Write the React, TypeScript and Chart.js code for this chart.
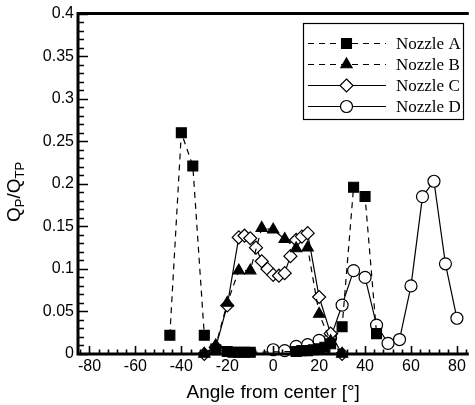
import React, { useEffect, useRef } from "react";
import { Chart, registerables } from "chart.js";

Chart.register(...registerables);

// ---- data ----
const anglesA = [-45, -40, -35, -30, -25, -20, -17.5, -15, -12.5, -10, 10, 12.5, 15, 17.5, 20, 22.5, 25, 30, 35, 40, 45];
const valuesA = [0.022, 0.26, 0.221, 0.022, 0.005, 0.003, 0.002, 0.002, 0.002, 0.002, 0.003, 0.004, 0.004, 0.005, 0.006, 0.008, 0.012, 0.032, 0.196, 0.185, 0.024];

const anglesB = [-30, -25, -20, -15, -10, -5, 0, 5, 10, 15, 20, 25, 30];
const valuesB = [0.0, 0.01, 0.06, 0.098, 0.098, 0.148, 0.146, 0.135, 0.124, 0.125, 0.047, 0.015, 0.0];

const anglesC = [-30, -25, -20, -15, -12.5, -10, -7.5, -5, -2.5, 0, 2.5, 5, 7.5, 10, 12.5, 15, 20, 25, 30];
const valuesC = [0.0, 0.008, 0.057, 0.137, 0.139, 0.136, 0.125, 0.109, 0.1, 0.093, 0.092, 0.095, 0.115, 0.134, 0.138, 0.142, 0.067, 0.024, 0.0];

const anglesD = [0, 5, 10, 15, 20, 25, 30, 35, 40, 45, 50, 55, 60, 65, 70, 75, 80];
const valuesD = [0.005, 0.004, 0.009, 0.011, 0.016, 0.019, 0.0575, 0.098, 0.09, 0.034, 0.0125, 0.017, 0.08, 0.185, 0.203, 0.106, 0.042];

const seriesNames = ["Nozzle A", "Nozzle B", "Nozzle C", "Nozzle D"];
const xTicks = [-80, -60, -40, -20, 0, 20, 40, 60, 80];
const yTicks = [0, 0.05, 0.1, 0.15, 0.2, 0.25, 0.3, 0.35, 0.4];
const xTitle = "Angle from center [°]";

const toPoints = (xs: number[], ys: number[]) => xs.map((x, i) => ({ x, y: ys[i] }));

const SANS = '"Liberation Sans", Arial, sans-serif';
const SERIF = '"Liberation Serif", "Times New Roman", serif';

function drawMarker(ctx: CanvasRenderingContext2D, style: string, x: number, y: number, r: number, fill: string) {
  ctx.beginPath();
  if (style === "rect") {
    const s = Math.SQRT1_2 * r;
    ctx.rect(x - s, y - s, 2 * s, 2 * s);
  } else if (style === "triangle") {
    ctx.moveTo(x, y - r);
    ctx.lineTo(x + r * 0.866, y + r * 0.5);
    ctx.lineTo(x - r * 0.866, y + r * 0.5);
    ctx.closePath();
  } else if (style === "rectRot") {
    ctx.moveTo(x, y - r);
    ctx.lineTo(x + r, y);
    ctx.lineTo(x, y + r);
    ctx.lineTo(x - r, y);
    ctx.closePath();
  } else {
    ctx.arc(x, y, r, 0, Math.PI * 2);
  }
  ctx.fillStyle = fill;
  ctx.fill();
  ctx.lineWidth = 1.2;
  ctx.strokeStyle = "#000";
  ctx.stroke();
}

const framePlugin = {
  id: "frame",
  afterDraw(chart: any) {
    const { ctx, chartArea, scales } = chart;
    const { left, right, top, bottom } = chartArea;
    const xs = scales.x;
    const ys = scales.y;
    ctx.save();
    ctx.strokeStyle = "#000";
    ctx.lineCap = "butt";

    // axis frame
    ctx.lineWidth = 3;
    ctx.beginPath();
    ctx.moveTo(left - 1.5, top);
    ctx.lineTo(right + 2, top);
    ctx.moveTo(left, top - 1.5);
    ctx.lineTo(left, bottom + 1.5);
    ctx.moveTo(left - 1.5, bottom);
    ctx.lineTo(right + 2, bottom);
    ctx.stroke();

    // inward ticks
    ctx.lineWidth = 1.6;
    ctx.beginPath();
    for (let k = 0; k <= 40; k++) {
      const v = k / 100;
      const py = Math.round(ys.getPixelForValue(v)) + 0.5;
      const len = k % 5 === 0 ? 10 : 6;
      ctx.moveTo(left, py);
      ctx.lineTo(left + len, py);
    }
    for (let v = -84; v <= 84; v += 4) {
      const px = Math.round(xs.getPixelForValue(v)) + 0.5;
      const len = v % 20 === 0 ? 8 : 4.5;
      ctx.moveTo(px, bottom);
      ctx.lineTo(px, bottom - len);
    }
    ctx.stroke();

    // legend
    const bx = 303.5, by = 23.5, bw = 160, bh = 96;
    ctx.fillStyle = "#fff";
    ctx.fillRect(bx, by, bw, bh);
    ctx.lineWidth = 1.2;
    ctx.strokeRect(bx, by, bw, bh);
    const rows = [43.5, 64.5, 85.5, 106.5];
    chart.data.datasets.forEach((ds: any, i: number) => {
      const ry = rows[i];
      ctx.save();
      ctx.lineWidth = 1.2;
      ctx.setLineDash(ds.borderDash || []);
      ctx.beginPath();
      ctx.moveTo(308, ry);
      ctx.lineTo(386, ry);
      ctx.stroke();
      ctx.restore();
      drawMarker(ctx, ds.pointStyle, 346.5, ry, ds.pointRadius, ds.pointBackgroundColor);
      ctx.fillStyle = "#000";
      ctx.font = `17px ${SERIF}`;
      ctx.textAlign = "left";
      ctx.textBaseline = "middle";
      ctx.fillText(ds.label, 396, ry + 1);
    });

    // x title
    ctx.fillStyle = "#000";
    ctx.font = `19px ${SANS}`;
    ctx.textAlign = "center";
    ctx.textBaseline = "alphabetic";
    ctx.fillText(xTitle, xs.getPixelForValue(0), 398);

    // y title Q_P / Q_TP (rotated)
    ctx.save();
    ctx.translate(20, 222);
    ctx.rotate(-Math.PI / 2);
    ctx.textAlign = "left";
    const big = `19px ${SANS}`;
    const small = `13px ${SANS}`;
    let cx = 0;
    const part = (t: string, f: string, dy: number) => {
      ctx.font = f;
      ctx.fillText(t, cx, dy);
      cx += ctx.measureText(t).width;
    };
    part("Q", big, 0);
    part("P", small, 4);
    part("/", big, 0);
    part("Q", big, 0);
    part("TP", small, 4);
    ctx.restore();

    ctx.restore();
  },
};

export default function App() {
  const ref = useRef<HTMLCanvasElement | null>(null);

  useEffect(() => {
    document.body.style.margin = "0";
    const canvas = ref.current;
    if (!canvas) return;
    const common = {
      borderColor: "#000",
      borderWidth: 1.2,
      pointBorderColor: "#000",
      pointBorderWidth: 1.2,
      tension: 0,
      clip: false as any,
      fill: false,
    };
    const chart = new Chart(canvas, {
      type: "line",
      data: {
        datasets: [
          {
            ...common,
            label: seriesNames[0],
            data: toPoints(anglesA, valuesA),
            borderDash: [6, 5],
            pointStyle: "rect",
            pointRadius: 7,
            pointBackgroundColor: "#000",
          },
          {
            ...common,
            label: seriesNames[1],
            data: toPoints(anglesB, valuesB),
            borderDash: [6, 5],
            pointStyle: "triangle",
            pointRadius: 6.5,
            pointBackgroundColor: "#000",
          },
          {
            ...common,
            label: seriesNames[2],
            data: toPoints(anglesC, valuesC),
            pointStyle: "rectRot",
            pointRadius: 6.5,
            pointBackgroundColor: "#fff",
          },
          {
            ...common,
            label: seriesNames[3],
            data: toPoints(anglesD, valuesD),
            pointStyle: "circle",
            pointRadius: 6,
            pointBackgroundColor: "#fff",
          },
        ] as any,
      },
      options: {
        responsive: false,
        animation: false,
        devicePixelRatio: 1,
        layout: { padding: { top: 13, left: 0, right: 0, bottom: 0 } },
        plugins: { legend: { display: false }, tooltip: { enabled: false } },
        scales: {
          x: {
            type: "linear",
            min: -85,
            max: 84.3,
            afterBuildTicks: (s: any) => {
              s.ticks = xTicks.map((v) => ({ value: v }));
            },
            afterFit: (s: any) => {
              s.height = 51;
            },
            ticks: {
              color: "#000",
              font: { family: SANS, size: 16 },
              padding: 3,
              maxRotation: 0,
              autoSkip: false,
              callback: (v: any) => String(v),
            },
            grid: { display: false, drawTicks: false },
            border: { display: false },
          },
          y: {
            type: "linear",
            min: 0,
            max: 0.4,
            afterBuildTicks: (s: any) => {
              s.ticks = yTicks.map((v) => ({ value: v }));
            },
            afterFit: (s: any) => {
              s.width = 78;
            },
            ticks: {
              color: "#000",
              font: { family: SANS, size: 16 },
              padding: 4,
              autoSkip: false,
              callback: (v: any) => String(parseFloat(Number(v).toFixed(2))),
            },
            grid: { display: false, drawTicks: false },
            border: { display: false },
          },
        },
      },
      plugins: [framePlugin],
    });
    return () => chart.destroy();
  }, []);

  return (
    <div style={{ position: "relative", width: 475, height: 405, background: "#fff" }}>
      <canvas ref={ref} width={475} height={405} />
    </div>
  );
}
